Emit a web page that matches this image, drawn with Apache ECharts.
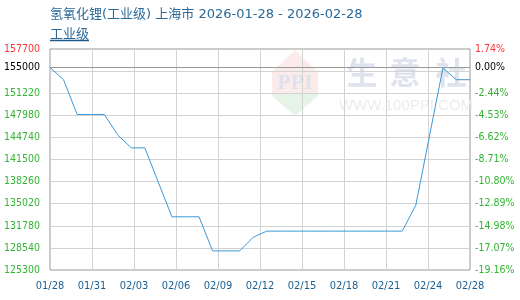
<!DOCTYPE html>
<html><head><meta charset="utf-8">
<script src="https://cdn.jsdelivr.net/npm/echarts@6/dist/echarts.min.js"></script>
<style>html,body{margin:0;padding:0;background:#fff}#c{width:520px;height:300px}</style>
</head><body><div id="c"></div>
<script>
const titleText = '氢氧化锂(工业级) 上海市 2026-01-28 - 2026-02-28';
const seriesName = '工业级';
const startDate = '2026-01-28';
const endDate = '2026-02-28';
const dates = ['2026-01-28','2026-01-29','2026-01-30','2026-01-31','2026-02-01','2026-02-02','2026-02-03','2026-02-04',
  '2026-02-06','2026-02-07','2026-02-08','2026-02-09','2026-02-10','2026-02-11','2026-02-12','2026-02-13',
  '2026-02-14','2026-02-15','2026-02-16','2026-02-17','2026-02-18','2026-02-19','2026-02-20','2026-02-21','2026-02-22','2026-02-23',
  '2026-02-24','2026-02-26','2026-02-27','2026-02-28'];
const prices = [155000,153200,148100,148100,148100,145100,143200,143200,
  133100,133100,133100,128100,128100,128100,130100,131000,
  131000,131000,131000,131000,131000,131000,131000,131000,131000,131000,
  134800,154900,153200,153200];
const xTickLabels = ['01/28','01/31','02/03','02/06','02/09','02/12','02/15','02/18','02/21','02/24','02/28'];
const basePrice = 155000;
const yMin = 125300, yMax = 157700, yStep = 3240;

const DAY = 86400000;
const dayOf = d => Math.round((Date.parse(d) - Date.parse(startDate)) / DAY);
const xMax = dayOf(endDate);
const xStep = xMax / (xTickLabels.length - 1);
const seriesData = dates.map((d, i) => [dayOf(d), prices[i]]);

const GREEN = '#33b433', RED = '#ff3333', BLUE = '#1b5e91';
const numFont = '"DejaVu Sans Condensed","Liberation Sans",sans-serif';
const isHidden = v => Math.abs(v - (yMax - yStep)) < 1;
const pct = v => ((v - basePrice) / basePrice * 100).toFixed(2) + '%';

// grid lines at the axis tick values, positioned through the axes' own scales
const gridMarks = [];
for (let k = 1; k < Math.round((yMax - yMin) / yStep); k++) gridMarks.push({yAxis: yMin + k * yStep});
for (let k = 1; k < xTickLabels.length - 1; k++) gridMarks.push({xAxis: k * xStep});

const chart = echarts.init(document.getElementById('c'), null, {renderer: 'canvas'});
chart.setOption({
  animation: false,
  backgroundColor: '#fff',
  title: [
    {text: titleText, left: 50, top: 8, padding: 0,
     textStyle: {color: '#2a6a9a', fontSize: 13, fontWeight: 'normal', fontFamily: '"DejaVu Sans","Noto Sans CJK SC",sans-serif'}},
    {text: seriesName, left: 50, top: 27, padding: 0,
     textStyle: {color: '#2a6a9a', fontSize: 13, fontWeight: 'normal', fontFamily: '"Noto Sans CJK SC",sans-serif'}}
  ],
  graphic: [
    {type: 'line', shape: {x1: 50, y1: 40.5, x2: 89, y2: 40.5}, style: {stroke: '#1d5c8c', lineWidth: 1.5}, silent: true},
    {type: 'polygon', shape: {points: [[295, 50], [318, 72], [318, 93], [272, 93], [272, 72]]}, style: {fill: '#fcebeb'}, silent: true},
    {type: 'polygon', shape: {points: [[272, 93], [318, 93], [318, 96], [295, 116], [272, 96]]}, style: {fill: '#e6f4e8'}, silent: true},
    {type: 'text', x: 295, y: 83, style: {text: 'PPI', fill: '#dde2ee', font: 'bold 22px "Liberation Serif",serif', align: 'center', verticalAlign: 'middle'}, silent: true},
    {type: 'text', x: 362, y: 72.5, style: {text: '生', fill: '#dfe3ee', font: 'bold 31px "Noto Sans CJK SC"', align: 'center', verticalAlign: 'middle'}, silent: true},
    {type: 'text', x: 405, y: 72.5, style: {text: '意', fill: '#dfe3ee', font: 'bold 31px "Noto Sans CJK SC"', align: 'center', verticalAlign: 'middle'}, silent: true},
    {type: 'text', x: 451, y: 72.5, style: {text: '社', fill: '#dfe3ee', font: 'bold 31px "Noto Sans CJK SC"', align: 'center', verticalAlign: 'middle'}, silent: true},
    {type: 'text', x: 406, y: 105.5, style: {text: 'WWW.100PPI.COM', fill: '#ececec', font: '15px "Liberation Sans",sans-serif', align: 'center', verticalAlign: 'middle'}, silent: true}
  ],
  grid: {left: 50, right: 50, top: 49, bottom: 30, show: true, borderColor: '#999', borderWidth: 1},
  xAxis: {
    type: 'value', min: 0, max: xMax, interval: xStep,
    axisLine: {show: false}, axisTick: {show: false}, splitLine: {show: false},
    axisLabel: {
      margin: 11, color: BLUE, fontSize: 11, fontFamily: numFont,
      showMinLabel: true, showMaxLabel: true,
      formatter: v => xTickLabels[Math.round(v / xStep)] || ''
    }
  },
  yAxis: [
    {type: 'value', min: yMin, max: yMax, interval: yStep, position: 'left',
     axisLine: {show: false}, axisTick: {show: false}, splitLine: {show: false},
     axisLabel: {margin: 10, fontSize: 10.5, fontFamily: numFont,
       color: v => (Math.abs(v - yMax) < 1 ? RED : GREEN),
       formatter: v => isHidden(v) ? '' : String(Math.round(v))}},
    {type: 'value', min: yMin, max: yMax, interval: yStep, position: 'right',
     axisLine: {show: false}, axisTick: {show: false}, splitLine: {show: false},
     axisLabel: {margin: 5, fontSize: 10.5, fontFamily: numFont,
       color: v => (Math.abs(v - yMax) < 1 ? RED : GREEN),
       formatter: v => isHidden(v) ? '' : pct(v)}}
  ],
  series: [
    {
      name: 'grid', type: 'line', data: seriesData, showSymbol: false, symbol: 'none', silent: true, z: 1,
      lineStyle: {opacity: 0, width: 0}, itemStyle: {opacity: 0},
      markLine: {
        silent: true, symbol: 'none', animation: false, z: 1,
        lineStyle: {color: '#d2d2d2', width: 1, type: 'solid'},
        label: {show: false},
        data: gridMarks
      }
    },
    {
      name: seriesName, type: 'line', data: seriesData, showSymbol: false, symbol: 'none',
      lineStyle: {color: '#3b98d8', width: 1}, itemStyle: {color: '#3b98d8'}, z: 5,
      markLine: {
        silent: true, symbol: 'none', animation: false, z: 3,
        lineStyle: {color: '#999', width: 1, type: 'solid'},
        data: [
          {yAxis: basePrice, label: {show: true, position: 'start', distance: 10, formatter: String(basePrice), color: '#000', fontSize: 10.5, fontFamily: numFont}},
          {yAxis: basePrice, label: {show: true, position: 'end', distance: 5, formatter: pct(basePrice), color: '#000', fontSize: 10.5, fontFamily: numFont}}
        ]
      }
    }
  ]
});
</script></body></html>
